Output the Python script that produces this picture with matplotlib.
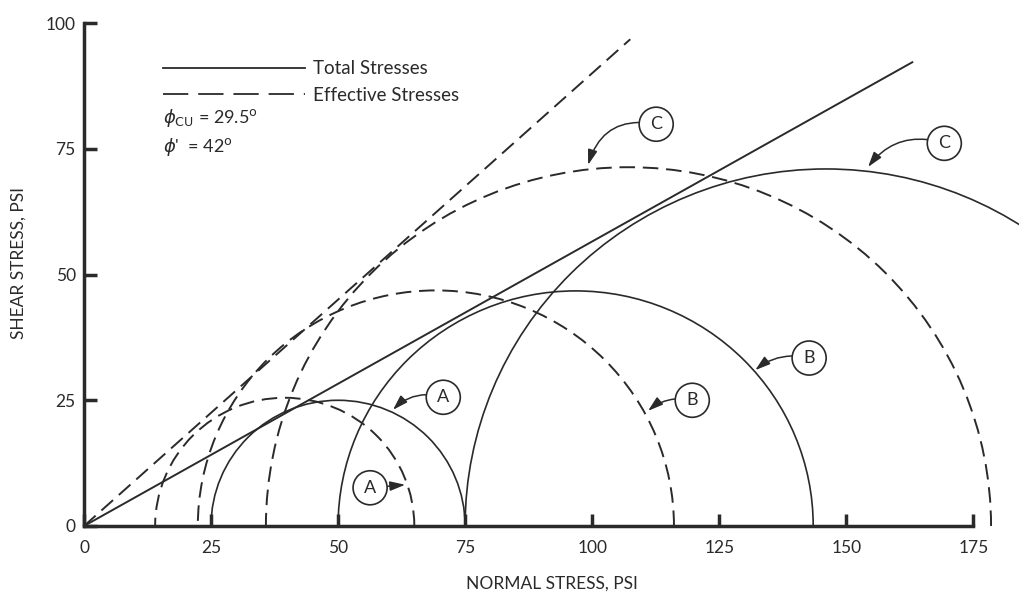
import numpy as np
import matplotlib
matplotlib.use('Agg')
import matplotlib.pyplot as plt
from matplotlib.patches import Arc
from matplotlib.lines import Line2D

plt.rcParams['font.family'] = ['Lato', 'DejaVu Sans']

# principal stresses (psi) of the Mohr circles
tests = ['A', 'B', 'C']
total_s3 = [25.0, 50.0, 75.0]
total_s1 = [75.0, 143.5, 217.0]
eff_s3 = [14.0, 22.4, 35.8]
eff_s1 = [65.0, 116.1, 178.5]

# failure envelopes
phi_total = 29.5
phi_eff = 42.0
env_total_end = 163.0
env_eff_end = 107.5

# label positions (circled letters) and arrow tips
total_lbl = [(70.7, 25.6), (142.7, 33.4), (169.3, 76.1)]
total_tip = [(60.8, 23.1), (132.1, 31.0), (154.3, 71.4)]
total_rad = [0.3, 0.25, 0.35]
eff_lbl = [(56.3, 7.6), (119.7, 25.0), (112.6, 79.9)]
eff_tip = [(63.2, 8.2), (111.0, 22.9), (99.2, 71.8)]
eff_rad = [0.0, 0.25, 0.45]

xticks = [0, 25, 50, 75, 100, 125, 150, 175]
yticks = [0, 25, 50, 75, 100]

ink = '#2a2a2a'
dash = (0, (8, 4))

fig = plt.figure(figsize=(10.19, 5.93), dpi=100)
ax = fig.add_axes([84 / 1019, 67 / 593, 935 / 1019, 526 / 593])
ax.set_xlim(0, 184.0)
ax.set_ylim(0, 104.6)

for s3, s1 in zip(total_s3, total_s1):
    c, d = (s1 + s3) / 2, s1 - s3
    ax.add_patch(Arc((c, 0), d, d, theta1=0, theta2=180, color=ink, lw=1.2))
for s3, s1 in zip(eff_s3, eff_s1):
    c, d = (s1 + s3) / 2, s1 - s3
    ax.add_patch(Arc((c, 0), d, d, theta1=0, theta2=180, color=ink, lw=1.4,
                     linestyle=dash))

xs = np.array([0, env_total_end])
ax.plot(xs, xs * np.tan(np.radians(phi_total)), color=ink, lw=1.4)
xs = np.array([0, env_eff_end])
ax.plot(xs, xs * np.tan(np.radians(phi_eff)), color=ink, lw=1.4, linestyle=dash)

def label(txt, pos, tip, rad):
    ax.annotate(txt, xy=tip, xytext=pos, ha='center', va='center', fontsize=13,
                color=ink,
                bbox=dict(boxstyle='circle,pad=0.5', fc='white', ec=ink, lw=1.2),
                arrowprops=dict(arrowstyle='-|>,head_length=0.7,head_width=0.22',
                                color=ink, lw=1.1, shrinkA=0, shrinkB=0,
                                connectionstyle='arc3,rad=%s' % rad))

for t, p, q, r in zip(tests, total_lbl, total_tip, total_rad):
    label(t, p, q, r)
for t, p, q, r in zip(tests, eff_lbl, eff_tip, eff_rad):
    label(t, p, q, r)

# axes look
for s in ['top', 'right']:
    ax.spines[s].set_visible(False)
ax.spines['bottom'].set_bounds(0, 175)
ax.spines['left'].set_bounds(0, 100)
ax.spines['bottom'].set_linewidth(2.5)
ax.spines['left'].set_linewidth(2.5)
ax.spines['bottom'].set_color(ink)
ax.spines['left'].set_color(ink)
ax.set_xticks(xticks)
ax.set_yticks(yticks)
ax.tick_params(axis='x', direction='in', length=9, width=2.5, pad=10,
               labelsize=12.5, colors=ink)
ax.tick_params(axis='y', direction='in', length=9, width=2.5, pad=6,
               labelsize=12.5, colors=ink)
ax.set_xlabel('NORMAL STRESS, PSI', fontsize=12.5, color=ink, labelpad=14)
ax.set_ylabel('SHEAR STRESS, PSI', fontsize=12.5, color=ink, labelpad=14)

handles = [Line2D([], [], color=ink, lw=1.3),
           Line2D([], [], color=ink, lw=1.3, linestyle=(0, (14, 5.5)))]
ax.legend(handles, ['Total Stresses', 'Effective Stresses'], loc='upper left',
          bbox_to_anchor=(0.084, 0.885), frameon=False, fontsize=13.5,
          handlelength=7.6, handletextpad=0.45, labelspacing=0.5,
          borderpad=0, borderaxespad=0, labelcolor=ink)

ax.text(0.084, 0.775, r'$\phi_{\rm CU}$ = 29.5$^{\rm o}$', transform=ax.transAxes,
        fontsize=13, color=ink, va='center')
ax.text(0.084, 0.72, r"$\phi$'  = 42$^{\rm o}$", transform=ax.transAxes,
        fontsize=13, color=ink, va='center')

fig.savefig('out.png', dpi=100)
